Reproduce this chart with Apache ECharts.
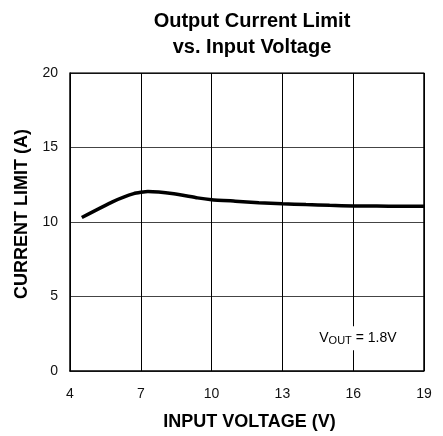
<!DOCTYPE html>
<html><head><meta charset="utf-8">
<script src="https://cdn.jsdelivr.net/npm/echarts@6/dist/echarts.min.js"></script>
<style>html,body{margin:0;padding:0;background:#fff}#c{width:443px;height:436px}</style>
</head><body><div id="c"></div>
<script>
const inputVoltage = [4.5, 5.8, 6.7, 7.3, 8.4, 9.4, 10, 11, 12, 13, 14, 15, 16, 17, 18, 19];
const currentLimit = [10.3, 11.35, 11.9, 12.05, 11.9, 11.62, 11.5, 11.4, 11.3, 11.23, 11.17, 11.12, 11.08, 11.07, 11.06, 11.05];
const xTicks = [4, 7, 10, 13, 16, 19];
const yTicks = [0, 5, 10, 15, 20];
const annotation = { x: 16.2, y: 2.2 };

const font = 'Arial, "Liberation Sans", Helvetica, sans-serif';
const chart = echarts.init(document.getElementById('c'));
chart.setOption({
  backgroundColor: '#fff',
  animation: false,
  title: {
    text: 'Output Current Limit\nvs. Input Voltage',
    left: 247, top: 3, textAlign: 'center',
    textStyle: { fontFamily: font, fontSize: 20, fontWeight: 'bold', color: '#000', lineHeight: 26 }
  },
  grid: { left: 70, right: 19, top: 73, bottom: 61 },
  xAxis: {
    type: 'value', min: xTicks[0], max: xTicks[xTicks.length - 1], interval: 3,
    name: 'INPUT VOLTAGE (V)', nameLocation: 'middle', nameGap: 42,
    nameTextStyle: { fontFamily: font, fontSize: 18, fontWeight: 'bold', color: '#000', padding: [0, 0, 0, 5] },
    axisLine: { show: true, lineStyle: { color: '#000', width: 1.5 } },
    axisTick: { show: false },
    axisLabel: { fontFamily: font, fontSize: 14, color: '#111', margin: 16 },
    splitLine: { show: true, lineStyle: { color: '#000', width: 1 } }
  },
  yAxis: {
    type: 'value', min: yTicks[0], max: yTicks[yTicks.length - 1], interval: 5,
    name: 'CURRENT LIMIT (A)', nameLocation: 'middle', nameGap: 33,
    nameTextStyle: { fontFamily: font, fontSize: 18, fontWeight: 'bold', color: '#000', padding: [0, 0, 0, 16] },
    axisLine: { show: true, lineStyle: { color: '#000', width: 1.5 } },
    axisTick: { show: false },
    axisLabel: { fontFamily: font, fontSize: 14, color: '#111', margin: 12 },
    splitLine: { show: true, lineStyle: { color: '#444', width: 1 } }
  },
  series: [
    {
      type: 'line', data: inputVoltage.map((v, i) => [v, currentLimit[i]]),
      smooth: 0.15, showSymbol: false,
      lineStyle: { color: '#000', width: 3.5 },
      z: 3
    },
    {
      type: 'scatter', data: [[annotation.x, annotation.y]], silent: true, z: 10,
      symbol: 'rect', symbolSize: [86, 24],
      itemStyle: { color: '#fff', opacity: 1 },
      label: {
        show: true, position: 'inside',
        formatter: '{a|V}{s|OUT}{a| = 1.8V}',
        rich: {
          a: { fontFamily: font, fontSize: 14, color: '#000' },
          s: { fontFamily: font, fontSize: 11, color: '#000', verticalAlign: 'bottom', padding: [6, 0, 0, 0] }
        }
      }
    },
    {
      type: 'line', data: [[19, 0], [19, 20], [4, 20]], showSymbol: false, silent: true,
      lineStyle: { color: '#000', width: 1.5 }, z: 2
    }
  ]
});
</script></body></html>
